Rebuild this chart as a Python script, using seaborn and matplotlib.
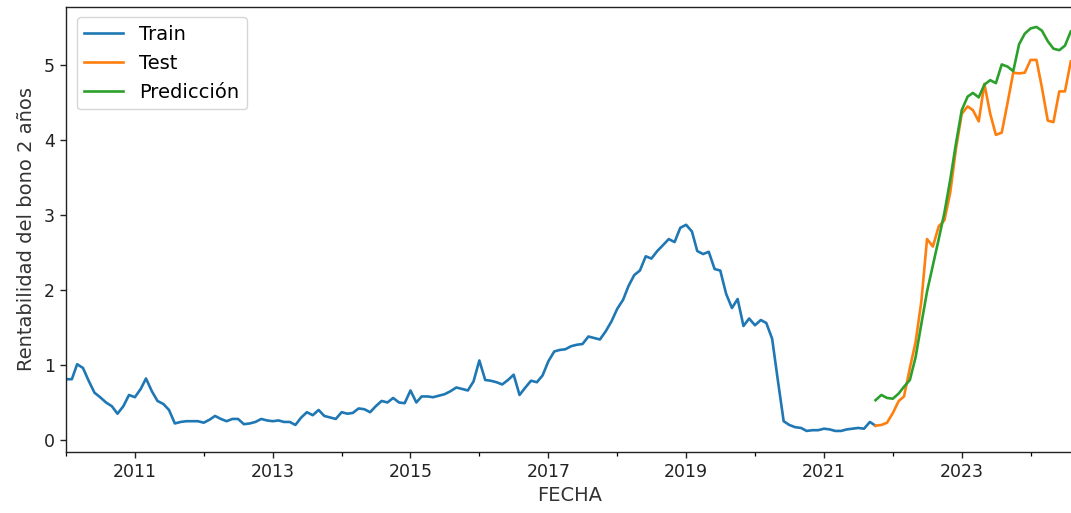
import datetime as dt

import matplotlib
matplotlib.use("Agg")
import matplotlib.dates as mdates
import matplotlib.pyplot as plt
import matplotlib.ticker as mticker
import pandas as pd
import seaborn as sns

# Monthly 2-year bond yield (%)
train_start = "2010-01-01"
train_values = [
    0.81, 0.81, 1.01, 0.96, 0.79, 0.63, 0.57, 0.50, 0.45, 0.35, 0.45, 0.60,
    0.57, 0.68, 0.82, 0.65, 0.52, 0.48, 0.40, 0.22, 0.24, 0.25, 0.25, 0.25,
    0.23, 0.27, 0.32, 0.28, 0.25, 0.28, 0.28, 0.21, 0.22, 0.24, 0.28, 0.26,
    0.25, 0.26, 0.24, 0.24, 0.20, 0.30, 0.37, 0.33, 0.40, 0.32, 0.30, 0.28,
    0.37, 0.35, 0.36, 0.42, 0.41, 0.37, 0.45, 0.52, 0.50, 0.56, 0.50, 0.49,
    0.66, 0.50, 0.58, 0.58, 0.57, 0.59, 0.61, 0.65, 0.70, 0.68, 0.66, 0.78,
    1.06, 0.80, 0.79, 0.77, 0.74, 0.80, 0.87, 0.60, 0.70, 0.79, 0.77, 0.86,
    1.05, 1.18, 1.20, 1.21, 1.25, 1.27, 1.28, 1.38, 1.36, 1.34, 1.45, 1.58,
    1.75, 1.87, 2.05, 2.20, 2.26, 2.45, 2.42, 2.52, 2.60, 2.68, 2.64, 2.83,
    2.87, 2.78, 2.52, 2.48, 2.51, 2.28, 2.26, 1.95, 1.76, 1.88, 1.52, 1.62,
    1.53, 1.60, 1.56, 1.35, 0.80, 0.25, 0.20, 0.17, 0.16, 0.12, 0.13, 0.13,
    0.15, 0.14, 0.12, 0.12, 0.14, 0.15, 0.16, 0.15, 0.24, 0.19,
]

test_start = "2021-10-01"
test_values = [
    0.19, 0.20, 0.23, 0.36, 0.52, 0.58, 0.96, 1.30, 1.85, 2.68, 2.58, 2.85,
    2.93, 3.30, 3.88, 4.35, 4.45, 4.40, 4.25, 4.75, 4.35, 4.07, 4.10, 4.50,
    4.90, 4.89, 4.90, 5.07, 5.07, 4.70, 4.26, 4.24, 4.65, 4.65, 5.05,
]
pred_values = [
    0.53, 0.60, 0.56, 0.55, 0.62, 0.71, 0.80, 1.10, 1.55, 1.98, 2.33, 2.68,
    3.03, 3.47, 3.95, 4.40, 4.58, 4.63, 4.57, 4.74, 4.80, 4.76, 5.01, 4.98,
    4.92, 5.28, 5.42, 5.49, 5.51, 5.46, 5.32, 5.22, 5.20, 5.26, 5.45,
]

series_names = ["Train", "Test", "Predicción"]
major_years = [2011, 2013, 2015, 2017, 2019, 2021, 2023]
minor_years = [2010, 2012, 2014, 2016, 2018, 2020, 2022, 2024]

train = pd.DataFrame({
    "FECHA": pd.date_range(train_start, periods=len(train_values), freq="MS"),
    "valor": train_values,
})
test_dates = pd.date_range(test_start, periods=len(test_values), freq="MS")
test = pd.DataFrame({"FECHA": test_dates, "valor": test_values})
pred = pd.DataFrame({"FECHA": test_dates, "valor": pred_values})

plt.rcParams["font.family"] = ["DejaVu Sans"]

W, H = 1071, 513
fig = plt.figure(figsize=(W / 100, H / 100), dpi=100)
ax = fig.add_axes([66 / W, 1 - 452.3 / H, (1074 - 66) / W, (452.3 - 6.7) / H])

palette = sns.color_palette("tab10")
for df, name, color in zip([train, test, pred], series_names, palette[:3]):
    sns.lineplot(data=df, x="FECHA", y="valor", ax=ax, label=name,
                 color=color, linewidth=1.9)

ax.set_xlim(mdates.date2num(dt.datetime(2010, 1, 1)),
            mdates.date2num(dt.datetime(2024, 8, 18)))
ax.set_ylim(-0.165, 5.78)

ax.xaxis.set_major_locator(mticker.FixedLocator(
    mdates.date2num([dt.datetime(y, 1, 1) for y in major_years])))
ax.xaxis.set_minor_locator(mticker.FixedLocator(
    mdates.date2num([dt.datetime(y, 1, 1) for y in minor_years])))
ax.xaxis.set_major_formatter(mdates.DateFormatter("%Y"))
ax.yaxis.set_major_locator(mticker.MultipleLocator(1))

ax.tick_params(axis="both", which="major", length=4.5, width=1.0,
               labelsize=12.5, colors="#222222")
ax.tick_params(axis="x", which="minor", length=2.7, width=0.9)
for s in ax.spines.values():
    s.set_linewidth(1.0)
    s.set_color("#222222")

ax.set_xlabel("FECHA", fontsize=14, color="#333333", labelpad=3)
ax.set_ylabel("Rentabilidad del bono 2 años", fontsize=14, color="#333333",
              labelpad=6)

ax.legend(loc="upper left", fontsize=14, handlelength=2.0,
          borderaxespad=0.55, framealpha=0.8)

fig.savefig("out.png", dpi=100)
